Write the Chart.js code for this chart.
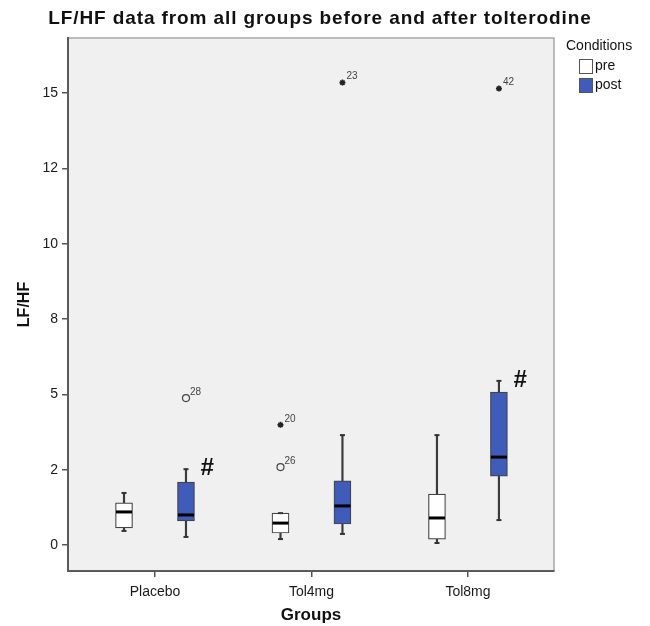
<!DOCTYPE html>
<html>
<head>
<meta charset="utf-8">
<script src="https://cdn.jsdelivr.net/npm/chart.js@4.4.2/dist/chart.umd.min.js"></script>
<style>
  body { margin: 0; background: #fff; overflow: hidden; font-family: Arial, "Liberation Sans", sans-serif; }
  #wrap { position: relative; width: 650px; height: 626px; }
  #title { position: absolute; left: 0; width: 640px; top: 7px; text-align: center; font-weight: bold; font-size: 19px; letter-spacing: 0.9px; color: #111; white-space: nowrap; }
  #legend { position: absolute; left: 566px; top: 37px; font-size: 14px; color: #111; white-space: nowrap; }
  .item { position: relative; height: 19px; margin-left: 13px; }
  .sw { position: absolute; left: 0; top: 3px; width: 12px; height: 13px; border: 1px solid #555; }
  .item span { position: absolute; left: 16px; top: 1px; }
  .first { margin-top: 3px; }
</style>
</head>
<body>
<div id="wrap">
  <div id="title">LF/HF data from all groups before and after tolterodine</div>
  <canvas id="chart" width="650" height="626"></canvas>
  <div id="legend"></div>
</div>
<script>
// LF/HF box plots per group, pre vs post tolterodine
const groups = ['Placebo', 'Tol4mg', 'Tol8mg'];
const groupPos = [1, 2, 3];
const conditions = ['pre', 'post'];

// whisker low, Q1, median, Q3, whisker high
const preLow = [0.47, 0.20, 0.07];
const preQ1 = [0.57, 0.40, 0.20];
const preMed = [1.10, 0.73, 0.90];
const preQ3 = [1.40, 1.06, 1.69];
const preHigh = [1.73, 1.06, 3.65];

const postLow = [0.27, 0.37, 0.83];
const postQ1 = [0.80, 0.70, 2.29];
const postMed = [1.00, 1.30, 2.92];
const postQ3 = [2.09, 2.13, 5.08];
const postHigh = [2.52, 3.65, 5.45];

// outliers: group index, condition, value, case number, marker
const outGroup = [0, 1, 1, 1, 2];
const outCond = ['post', 'pre', 'pre', 'post', 'post'];
const outValue = [4.88, 3.99, 2.59, 15.35, 15.15];
const outCase = ['28', '20', '26', '23', '42'];
const outKind = ['circle', 'star', 'circle', 'star', 'star'];

// significance mark on post box
const sigMark = ['#', '', '#'];

const yTickValues = [0, 2.5, 5, 7.5, 10, 12.5, 15];
const yTickLabels = ['0', '2', '5', '8', '10', '12', '15'];

const Y_MIN = -0.86, Y_MAX = 16.83;
const X_MIN = 0.444, X_MAX = 3.55;
const SHIFT = { pre: -0.198, post: 0.198 };
const FONT = 'Arial, "Liberation Sans", sans-serif';
const PRE_FILL = '#ffffff', POST_FILL = '#3f5cba';

const xOf = (g, c) => groupPos[g] + SHIFT[c];

const boxes = (lo, q1, md, q3, hi, c) => ({
  whisk: groups.map((_, i) => ({ x: xOf(i, c), y: [lo[i], hi[i]] })),
  box: groups.map((_, i) => ({ x: xOf(i, c), y: [q1[i], q3[i]] })),
  med: groups.map((_, i) => ({ x: xOf(i, c), y: md[i] })),
  caps: groups.flatMap((_, i) => [{ x: xOf(i, c), y: lo[i] }, { x: xOf(i, c), y: hi[i] }]),
});
const pre = boxes(preLow, preQ1, preMed, preQ3, preHigh, 'pre');
const post = boxes(postLow, postQ1, postMed, postQ3, postHigh, 'post');

const outPoints = kind => outValue
  .map((v, i) => ({ x: xOf(outGroup[i], outCond[i]), y: v, k: outKind[i] }))
  .filter(p => p.k === kind);

// plot background + light frame
const frame = {
  id: 'frame',
  beforeDraw(chart) {
    const { ctx, chartArea: a } = chart;
    ctx.save();
    ctx.fillStyle = '#f0f0f0';
    ctx.fillRect(a.left, a.top, a.right - a.left, a.bottom - a.top);
    ctx.strokeStyle = '#a8a8a8';
    ctx.lineWidth = 1.5;
    ctx.beginPath();
    ctx.moveTo(a.left, a.top); ctx.lineTo(a.right, a.top); ctx.lineTo(a.right, a.bottom);
    ctx.stroke();
    ctx.restore();
  },
};

// case numbers next to outliers, # marks above post boxes
const labels = {
  id: 'labels',
  afterDatasetsDraw(chart) {
    const { ctx, scales: { x, y } } = chart;
    ctx.save();
    ctx.fillStyle = '#444';
    ctx.font = '10px ' + FONT;
    ctx.textAlign = 'left';
    ctx.textBaseline = 'bottom';
    outValue.forEach((v, i) => {
      const px = x.getPixelForValue(xOf(outGroup[i], outCond[i]));
      const py = y.getPixelForValue(v);
      ctx.fillText(outCase[i], px + 4, py - 1);
    });
    ctx.fillStyle = '#111';
    ctx.font = 'bold italic 24px ' + FONT;
    ctx.textAlign = 'center';
    ctx.textBaseline = 'middle';
    sigMark.forEach((m, i) => {
      if (!m) return;
      const px = x.getPixelForValue(xOf(i, 'post'));
      const py = y.getPixelForValue(postHigh[i]);
      ctx.fillText(m, px + 21, py - 1);
    });
    ctx.restore();
  },
};

const axisCommon = {
  grid: { drawOnChartArea: false, drawTicks: true, tickLength: 6, color: '#555', lineWidth: 1.5, offset: false },
  border: { color: '#5a5a5a', width: 2 },
};

new Chart(document.getElementById('chart'), {
  type: 'bar',
  data: {
    datasets: [
      { data: pre.whisk, backgroundColor: '#3a3a3a', barThickness: 1.5, grouped: false, order: 5 },
      { data: post.whisk, backgroundColor: '#3a3a3a', barThickness: 1.5, grouped: false, order: 5 },
      { label: 'pre', data: pre.box, backgroundColor: PRE_FILL, borderColor: '#444', borderWidth: 1.2,
        borderSkipped: false, barThickness: 17, grouped: false, order: 4 },
      { label: 'post', data: post.box, backgroundColor: POST_FILL, borderColor: '#444', borderWidth: 1.2,
        borderSkipped: false, barThickness: 17, grouped: false, order: 4 },
      { type: 'scatter', data: pre.caps.concat(post.caps), pointStyle: 'line', pointRadius: 2.5,
        pointBorderWidth: 2, pointBorderColor: '#333', order: 3 },
      { type: 'scatter', data: pre.med.concat(post.med), pointStyle: 'line', pointRadius: 8,
        pointBorderWidth: 3, pointBorderColor: '#000', order: 2 },
      { type: 'scatter', data: outPoints('circle'), pointStyle: 'circle', pointRadius: 3.5,
        pointBorderWidth: 1.2, pointBorderColor: '#444', pointBackgroundColor: '#f0f0f0', order: 1 },
      { type: 'scatter', data: outPoints('star'), pointStyle: 'star', pointRadius: 3,
        pointBorderWidth: 1.6, pointBorderColor: '#222', order: 1 },
    ],
  },
  options: {
    responsive: false, animation: false, events: [],
    layout: { padding: { top: 38, right: 96, left: 0, bottom: 0 } },
    plugins: { legend: { display: false }, tooltip: { enabled: false } },
    scales: {
      x: {
        ...axisCommon, type: 'linear', min: X_MIN, max: X_MAX, offset: false,
        afterBuildTicks: s => { s.ticks = groupPos.map(v => ({ value: v })); },
        afterFit: s => { s.height = 55; },
        ticks: { callback: v => groups[groupPos.indexOf(v)], font: { family: FONT, size: 14 }, color: '#1a1a1a',
                 padding: 7, autoSkip: false, maxRotation: 0 },
        title: { display: true, text: 'Groups', font: { family: FONT, size: 17, weight: 'bold' }, color: '#111',
                 padding: { top: 0, bottom: 0 } },
      },
      y: {
        ...axisCommon, type: 'linear', min: Y_MIN, max: Y_MAX,
        afterBuildTicks: s => { s.ticks = yTickValues.map(v => ({ value: v })); },
        afterFit: s => { s.width = 68; },
        ticks: { callback: v => yTickLabels[yTickValues.indexOf(v)], font: { family: FONT, size: 14 }, color: '#1a1a1a',
                 padding: 4, autoSkip: false },
        title: { display: true, text: 'LF/HF', font: { family: FONT, size: 16, weight: 'bold' }, color: '#111',
                 padding: { top: 15, bottom: 0 } },
      },
    },
  },
  plugins: [frame, labels],
});

// legend
const fills = { pre: PRE_FILL, post: POST_FILL };
document.getElementById('legend').innerHTML = '<div>Conditions</div>' + conditions.map((c, i) =>
  `<div class="item${i === 0 ? ' first' : ''}"><div class="sw" style="background:${fills[c]}"></div><span>${c}</span></div>`).join('');
</script>
</body>
</html>
